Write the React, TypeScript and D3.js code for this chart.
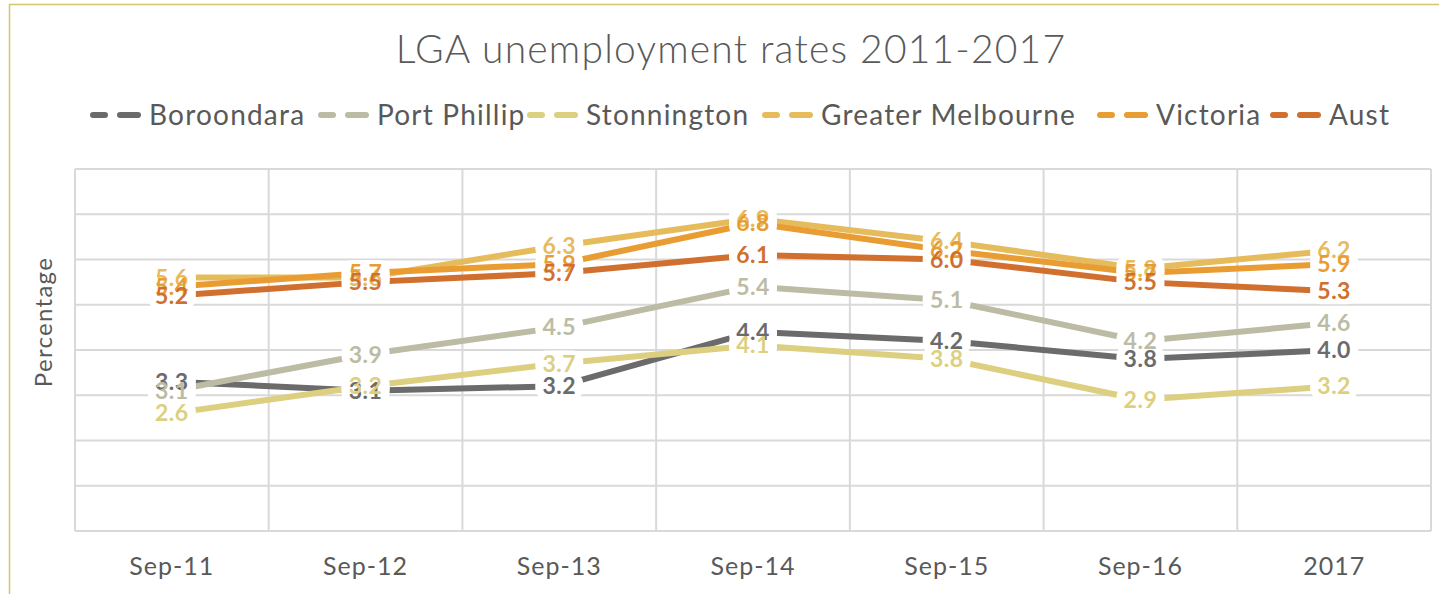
import React from 'react';
import * as d3 from 'd3';

const categories = ['Sep-11', 'Sep-12', 'Sep-13', 'Sep-14', 'Sep-15', 'Sep-16', '2017'];
const seriesNames = ['Boroondara', 'Port Phillip', 'Stonnington', 'Greater Melbourne', 'Victoria', 'Aust'];
const boroondara = [3.3, 3.1, 3.2, 4.4, 4.2, 3.8, 4.0];
const portPhillip = [3.1, 3.9, 4.5, 5.4, 5.1, 4.2, 4.6];
const stonnington = [2.6, 3.2, 3.7, 4.1, 3.8, 2.9, 3.2];
const greaterMelbourne = [5.6, 5.6, 6.3, 6.9, 6.4, 5.8, 6.2];
const victoria = [5.4, 5.7, 5.9, 6.8, 6.2, 5.7, 5.9];
const aust = [5.2, 5.5, 5.7, 6.1, 6.0, 5.5, 5.3];
const colors = ['#6b6b6b', '#bcbca4', '#dccf7f', '#e6bb5c', '#e89c32', '#d06f2e'];

const W = 1439;
const H = 594;
const plot = { left: 75, right: 1431, top: 169, bottom: 531 };
const FONT = 'Lato, "Open Sans", sans-serif';
// where each legend entry's text starts
const legendTextX = [151, 379, 588, 823, 1158, 1331];

const App = () => {
  const allSeries = [boroondara, portPhillip, stonnington, greaterMelbourne, victoria, aust];
  const x = d3.scaleBand().domain(categories).range([plot.left, plot.right]);
  const y = d3.scaleLinear().domain([0, 8]).range([plot.bottom, plot.top]);
  const cx = (c: string) => (x(c) as number) + x.bandwidth() / 2;
  const line = d3
    .line<number>()
    .x((_, i) => cx(categories[i]))
    .y((d) => y(d));

  return (
    <svg width={W} height={H} style={{ position: 'absolute', left: 0, top: 0, background: '#fff' }}>
      <rect x={9.5} y={4.5} width={W + 20} height={H + 20} fill="#fff" stroke="#d6c56a" strokeWidth={1.5} />
      <text
        x={731}
        y={63}
        textAnchor="middle"
        fontFamily={FONT}
        fontWeight={300}
        fontSize={39}
        letterSpacing={1.2}
        fill="#595959"
      >
        LGA unemployment rates 2011-2017
      </text>
      {seriesNames.map((n, i) => (
        <g key={n} transform={`translate(${legendTextX[i]},115)`}>
          <line x1={-58} x2={-46} y1={0} y2={0} stroke={colors[i]} strokeWidth={6} strokeLinecap="round" />
          <line x1={-31} x2={-13} y1={0} y2={0} stroke={colors[i]} strokeWidth={6} strokeLinecap="round" />
          <text x={-2} y={10} fontFamily={FONT} fontSize={28} letterSpacing={1.2} fill="#595959">
            {n}
          </text>
        </g>
      ))}
      {y.ticks(8).map((t) => (
        <line key={t} x1={plot.left} x2={plot.right} y1={y(t)} y2={y(t)} stroke="#d9d9d9" strokeWidth={2} />
      ))}
      {d3.range(categories.length + 1).map((i) => {
        const xx = plot.left + i * x.bandwidth();
        return <line key={i} x1={xx} x2={xx} y1={plot.top} y2={plot.bottom} stroke="#d9d9d9" strokeWidth={2} />;
      })}
      {categories.map((c) => (
        <text
          key={c}
          x={cx(c)}
          y={575}
          textAnchor="middle"
          fontFamily={FONT}
          fontSize={25}
          letterSpacing={1}
          fill="#595959"
        >
          {c}
        </text>
      ))}
      <text
        transform="translate(52,322) rotate(-90)"
        textAnchor="middle"
        fontFamily={FONT}
        fontSize={24}
        letterSpacing={1.3}
        fill="#595959"
      >
        Percentage
      </text>
      {allSeries.map((s, i) => (
        <path key={i} d={line(s) as string} fill="none" stroke={colors[i]} strokeWidth={6} strokeLinejoin="round" />
      ))}
      {/* white glow behind all labels, drawn before any label text */}
      {allSeries.map((s, i) => (
        <g key={i}>
          {s.map((v, j) => (
            <rect
              key={j}
              x={cx(categories[j]) - 24}
              y={y(v) - 13}
              width={48}
              height={26}
              rx={10}
              fill="#fff"
            />
          ))}
        </g>
      ))}
      {allSeries.map((s, i) => (
        <g key={i}>
          {s.map((v, j) => (
            <text
              key={j}
              x={cx(categories[j])}
              y={y(v) + 8}
              textAnchor="middle"
              fontFamily={FONT}
              fontWeight={700}
              fontSize={23}
              letterSpacing={0.5}
              fill={colors[i]}
            >
              {v.toFixed(1)}
            </text>
          ))}
        </g>
      ))}
    </svg>
  );
};

export default App;
